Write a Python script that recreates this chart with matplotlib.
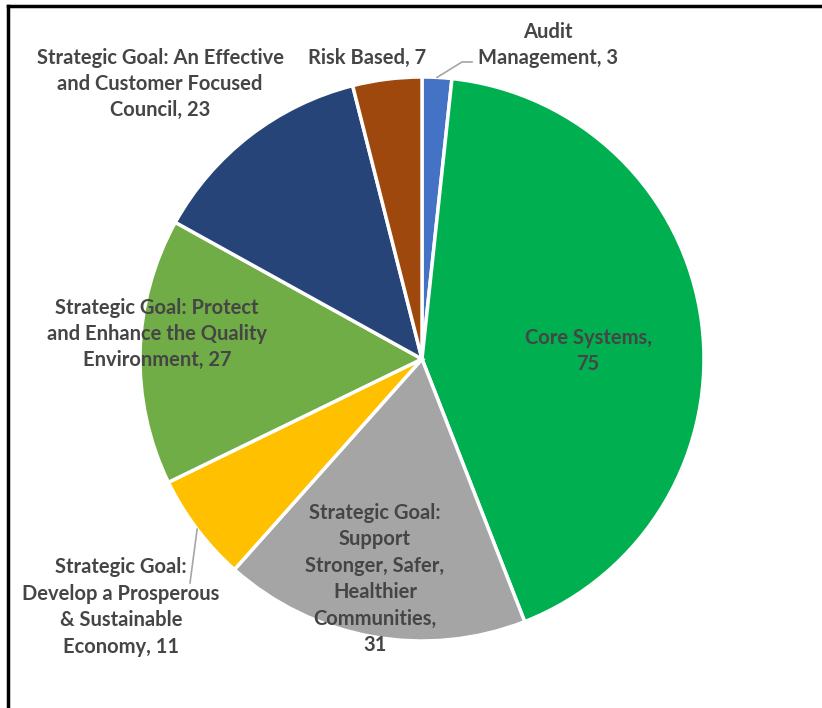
import numpy as np
import matplotlib.pyplot as plt
from matplotlib.lines import Line2D

# slices in clockwise order from 12 o'clock
labels = ['Audit\nManagement, 3',
          'Core Systems,\n75',
          'Strategic Goal:\nSupport\nStronger, Safer,\nHealthier\nCommunities,\n31',
          'Strategic Goal:\nDevelop a Prosperous\n& Sustainable\nEconomy, 11',
          'Strategic Goal: Protect\nand Enhance the Quality\nEnvironment, 27',
          'Strategic Goal: An Effective\nand Customer Focused\nCouncil, 23',
          'Risk Based, 7']
values = [3, 75, 31, 11, 27, 23, 7]
colors = ['#4472C4', '#00B050', '#A5A5A5', '#FFC000', '#70AD47', '#264478', '#9E480E']

W, H = 822, 708
fig = plt.figure(figsize=(W / 100, H / 100), dpi=100)
ax = fig.add_axes([0, 0, 1, 1])

cx, cy, r = 422, H - 359, 282
ax.pie(values, colors=colors, startangle=90, counterclock=False,
       center=(cx, cy), radius=r, frame=True,
       wedgeprops=dict(edgecolor='white', linewidth=2.5))
ax.set_xlim(0, W)
ax.set_ylim(0, H)
ax.axis('off')

# label positions (pixel coords, y from top)
label_pos = [(548, 45), (588, 351), (375, 579), (121, 607), (157, 334), (160, 84), (367, 58)]

font = dict(family=['Lato', 'DejaVu Sans'], fontsize=14.5, fontweight='bold',
            color='#454545', ha='center', va='center', linespacing=1.4)
for lab, (x, y) in zip(labels, label_pos):
    ax.text(x, H - y, lab, **font)

# leader lines from slice mid-angle on the rim
ends = np.cumsum(values)
mids = (ends - np.array(values) / 2) / ends[-1] * 2 * np.pi
def rim(i):
    a = mids[i]
    return cx + r * np.sin(a), cy + r * np.cos(a)

x0, y0 = rim(0)
ax.plot([x0, 462, 472], [y0, H - 62, H - 62], color='#A6A6A6', lw=1.2)
x0, y0 = rim(3)
ax.plot([x0, 190], [y0, H - 583], color='#A6A6A6', lw=1.2)

# frame border (top and left)
fig.add_artist(Line2D([8 / W, 1], [1 - 6 / H, 1 - 6 / H], color='black', lw=2.5,
                      transform=fig.transFigure))
fig.add_artist(Line2D([8 / W, 8 / W], [0, 1 - 6 / H], color='black', lw=2.5,
                      transform=fig.transFigure))

fig.savefig('out.png', dpi=100)
